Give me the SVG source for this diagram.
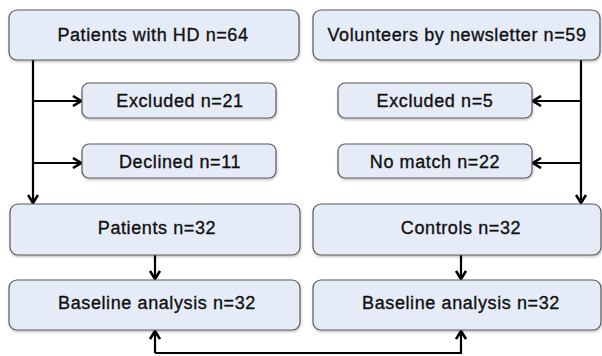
<svg xmlns="http://www.w3.org/2000/svg" width="602" height="356" viewBox="0 0 602 356">
<style>
.box{fill:#e6ecf7;stroke:#5a5a5a;stroke-width:1.2;filter:url(#sh)}
.t{font-family:"Liberation Sans",Arial,Helvetica,sans-serif;font-size:18px;letter-spacing:0.6px;fill:#111;stroke:#111;stroke-width:0.35;text-anchor:middle}
.c{fill:none;stroke:#000;stroke-width:2.2}
.a{marker-end:url(#ah)}
</style>
<defs>
<filter id="sh" x="-5%" y="-10%" width="110%" height="130%">
<feDropShadow dx="0.5" dy="1.5" stdDeviation="1" flood-color="#000" flood-opacity="0.25"/>
</filter>
<marker id="ah" viewBox="0 0 10 12" refX="9" refY="6" markerWidth="10" markerHeight="12" markerUnits="userSpaceOnUse" orient="auto">
<path d="M1,1 L9,6 L1,11" fill="none" stroke="#000" stroke-width="2.6"/>
</marker>
</defs>
<g id="connectors">
<path class="c a" d="M33,60 V203"/>
<path class="c a" d="M33,101 H81"/>
<path class="c a" d="M33,163 H81"/>
<path class="c a" d="M581,60 V203"/>
<path class="c a" d="M581,101 H533"/>
<path class="c a" d="M581,163 H533"/>
<path class="c a" d="M155,255 V279"/>
<path class="c a" d="M461,255 V279"/>
<path class="c a" d="M155,353 V331"/>
<path class="c a" d="M155,353 H461 V331"/>
</g>
<g id="n1"><rect class="box" x="9" y="10" width="290" height="50" rx="8"/><text class="t" x="153" y="41">Patients with HD n=64</text></g>
<g id="n2"><rect class="box" x="313" y="10" width="287" height="50" rx="8"/><text class="t" x="457" y="41">Volunteers by newsletter n=59</text></g>
<g id="n3"><rect class="box" x="82" y="83" width="194" height="35" rx="7"/><text class="t" x="180" y="107">Excluded n=21</text></g>
<g id="n4"><rect class="box" x="82" y="144" width="194" height="34" rx="7"/><text class="t" x="180" y="168">Declined n=11</text></g>
<g id="n5"><rect class="box" x="338" y="83" width="194" height="35" rx="7"/><text class="t" x="435" y="107">Excluded n=5</text></g>
<g id="n6"><rect class="box" x="338" y="144" width="194" height="34" rx="7"/><text class="t" x="435" y="168">No match n=22</text></g>
<g id="n7"><rect class="box" x="10" y="204" width="290" height="51" rx="8"/><text class="t" x="157" y="234">Patients n=32</text></g>
<g id="n8"><rect class="box" x="313" y="204" width="288" height="51" rx="8"/><text class="t" x="461" y="234">Controls n=32</text></g>
<g id="n9"><rect class="box" x="9" y="280" width="291" height="50" rx="8"/><text class="t" x="157" y="309">Baseline analysis n=32</text></g>
<g id="n10"><rect class="box" x="313" y="280" width="288" height="50" rx="8"/><text class="t" x="461" y="309">Baseline analysis n=32</text></g>
</svg>
